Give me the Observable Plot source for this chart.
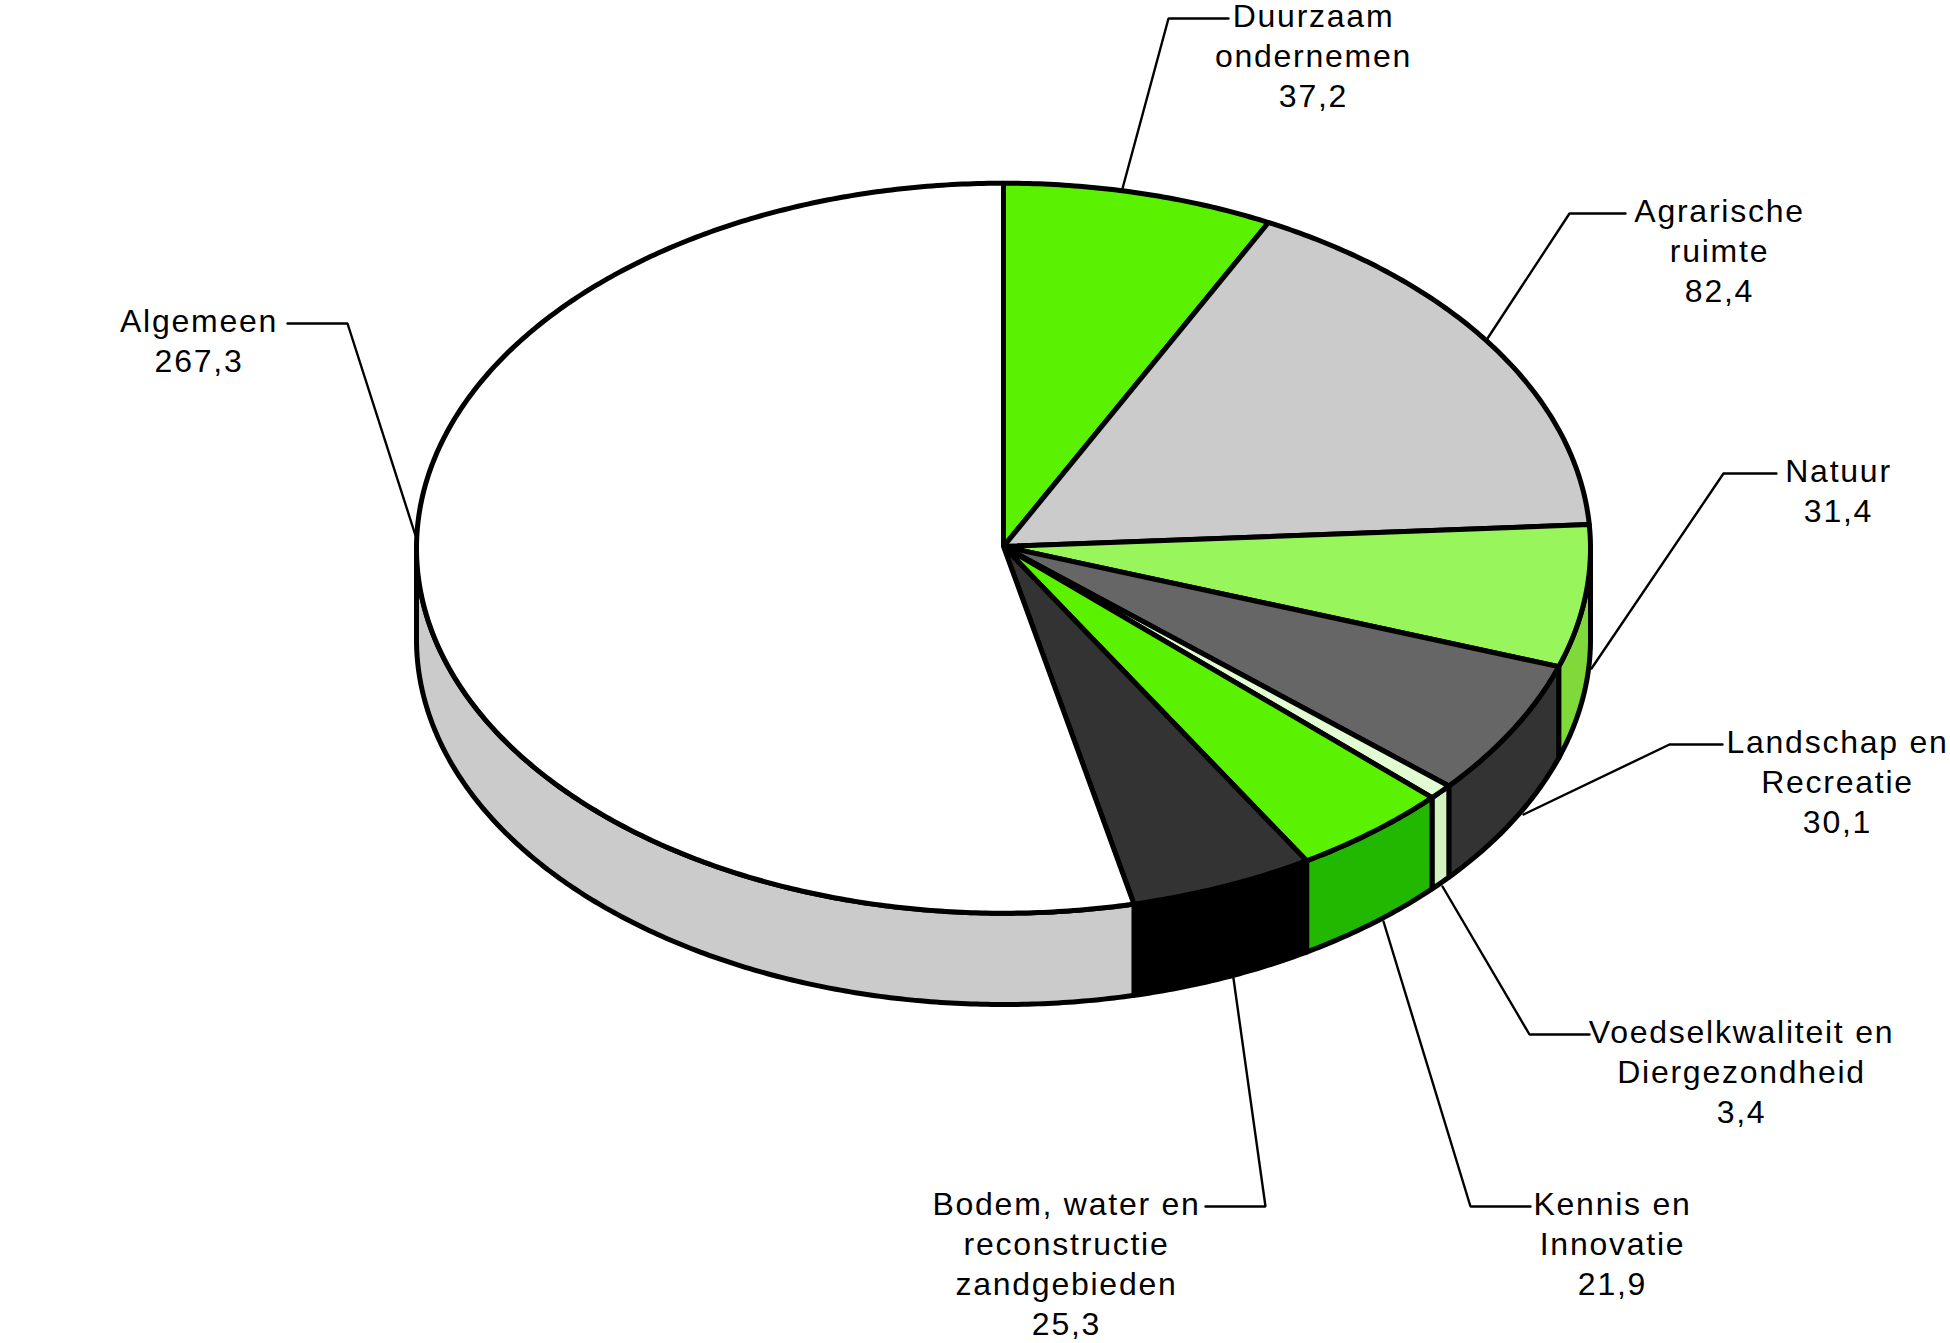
<!DOCTYPE html>
<html>
<head>
<meta charset="utf-8">
<script src="https://cdn.jsdelivr.net/npm/d3@7"></script>
<script src="https://cdn.jsdelivr.net/npm/@observablehq/plot@0.6"></script>
<style>
html,body{margin:0;padding:0;background:#fff}
svg{display:block}
</style>
</head>
<body>
<div id="chart"></div>
<script>
// Data
const categories = ["Duurzaam ondernemen","Agrarische ruimte","Natuur","Landschap en Recreatie","Voedselkwaliteit en Diergezondheid","Kennis en Innovatie","Bodem, water en reconstructie zandgebieden","Algemeen"];
const values = [37.2,82.4,31.4,30.1,3.4,21.9,25.3,267.3];
const labelLines = [
  ["Duurzaam","ondernemen","37,2"],
  ["Agrarische","ruimte","82,4"],
  ["Natuur","31,4"],
  ["Landschap en","Recreatie","30,1"],
  ["Voedselkwaliteit en","Diergezondheid","3,4"],
  ["Kennis en","Innovatie","21,9"],
  ["Bodem, water en","reconstructie","zandgebieden","25,3"],
  ["Algemeen","267,3"]
];

// Styles
const topColors  = ["#5af200","#cbcbcb","#99f55c","#666666","#e0fcd0","#5af200","#333333","#ffffff"];
const sideColors = ["#44b600","#989898","#7fd93a","#333333","#d3f2c0","#22b800","#000000","#cbcbcb"];

// Pie layout (ellipse in chart units)
const cx = 1003, cy = 547.7, apexY = 546, rx = 587, ry = 365, depth = 91.3;
const fontSize = 32;

// Annotation layout: label centre, first baseline, leader path
const labelX  = [1313,1719,1838,1837,1741,1612,1066,198.5];
const labelY  = [27,222,482,753,1043,1215,1215,332];
const leaders = [
  [[1122,188],[1168,18],[1228,18]],
  [[1487,338],[1569,213],[1625,213]],
  [[1591,668],[1723,473],[1776,473]],
  [[1523,814],[1669,744],[1722,744]],
  [[1442,886],[1529,1034],[1589,1034]],
  [[1383,921],[1470,1206],[1530,1206]],
  [[1233,978],[1265,1206],[1205,1206]],
  [[415,535],[347,323],[287,323]]
];

const total = d3.sum(values);
const cum = d3.cumsum(values);
const toDeg = v => v / total * 360;
const pt = (t, dz = 0) => {
  const a = t * Math.PI / 180;
  return {x: cx + rx * Math.sin(a), y: cy - ry * Math.cos(a) + dz};
};
const arc = (t0, t1, dz = 0) => {
  const n = Math.max(2, Math.ceil((t1 - t0) * 2));
  return d3.range(n + 1).map(i => pt(t0 + (t1 - t0) * i / n, dz));
};

const baseOpts = {x: "x", y: "y", curve: "linear-closed", stroke: "#000", strokeWidth: 5, strokeLinejoin: "round"};
const sideMarks = [], topMarks = [];
values.forEach((v, i) => {
  const t0 = toDeg(i ? cum[i - 1] : 0), t1 = toDeg(cum[i]);
  const s0 = Math.max(t0, 90), s1 = Math.min(t1, 270);
  if (s1 > s0) {
    const pts = [...arc(s0, s1, 0), ...arc(s0, s1, depth).reverse()];
    sideMarks.push(Plot.line(pts, {...baseOpts, fill: sideColors[i]}));
  }
  const pts = [{x: cx, y: apexY}, ...arc(t0, t1, 0)];
  topMarks.push(Plot.line(pts, {...baseOpts, fill: topColors[i]}));
});

const leaderMarks = leaders.map(l =>
  Plot.line(l.map(([x, y]) => ({x, y})), {x: "x", y: "y", curve: "linear", stroke: "#000", strokeWidth: 2.4, strokeLinejoin: "miter"})
);

const labelData = categories.map((c, i) => ({
  text: labelLines[i].join("\n"),
  x: labelX[i],
  y: labelY[i] - 29
}));

const chart = Plot.plot({
  width: 1950,
  height: 1343,
  margin: 0,
  x: {domain: [0, 1950], range: [0, 1950], axis: null},
  y: {domain: [0, 1343], range: [0, 1343], axis: null},
  style: {fontFamily: "'Liberation Sans', Arial, sans-serif", letterSpacing: "1.75px", background: "#fff"},
  marks: [
    ...leaderMarks,
    ...sideMarks,
    ...topMarks,
    Plot.text(labelData, {x: "x", y: "y", text: "text", fontSize, lineHeight: 40 / fontSize, lineAnchor: "top", textAnchor: "middle", fill: "#000"})
  ]
});
document.getElementById("chart").appendChild(chart);
</script>
</body>
</html>
